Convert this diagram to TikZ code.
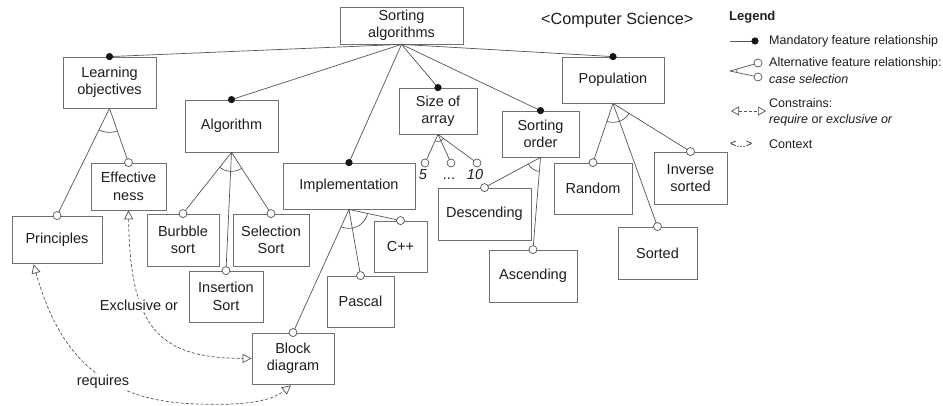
\documentclass[tikz,border=0pt]{standalone}
\usepackage{fontspec}
\setmainfont{Liberation Sans}
\usetikzlibrary{arrows.meta,calc}
\definecolor{lc}{HTML}{555555}
\definecolor{bc}{HTML}{707070}
\definecolor{tc}{HTML}{1E1E1E}
\definecolor{dc}{HTML}{151515}
\newcommand{\boxfont}{\fontsize{14.5}{17.4}\selectfont}
\newcommand{\legfont}{\fontsize{12.5}{15}\selectfont}
\begin{document}
\begin{tikzpicture}[x=1pt,y=-1pt,
  fbox/.style={draw=bc, line width=0.8pt, fill=white, align=center, inner sep=0pt,
    font=\boxfont, text=tc},
  edge/.style={draw=lc, line width=0.7pt},
  opc/.style={draw=lc, line width=0.7pt, fill=white},
  constr/.style={draw=lc, line width=0.7pt, dash pattern=on 3pt off 2pt,
    {Triangle[open,length=9pt,width=9pt]}-{Triangle[open,length=9pt,width=9pt]}},
  lab/.style={font=\boxfont, text=tc, inner sep=1pt},
  legtxt/.style={font=\legfont, text=tc, anchor=west, inner sep=0pt}
]
\useasboundingbox (0,0) rectangle (943,406);

% nodes
\node[fbox, minimum width=123, minimum height=37] (root) at (401.5,25.5) {Sorting\\algorithms};
\node[fbox, minimum width=93, minimum height=51] (lo) at (109.5,82.5) {Learning\\objectives};
\node[fbox, minimum width=93, minimum height=52] (alg) at (231.5,126) {Algorithm};
\node[fbox, minimum width=75, minimum height=47] (eff) at (128.5,186.5) {Effective\\ness};
\node[fbox, minimum width=90, minimum height=47] (pri) at (57,239.5) {Principles};
\node[fbox, minimum width=72, minimum height=52] (bub) at (183,240) {Burbble\\sort};
\node[fbox, minimum width=76, minimum height=52] (sel) at (271,240) {Selection\\Sort};
\node[fbox, minimum width=74, minimum height=51] (ins) at (226,296.5) {Insertion\\Sort};
\node[fbox, minimum width=82, minimum height=51] (blk) at (293,358.5) {Block\\diagram};
\node[fbox, minimum width=132, minimum height=46] (imp) at (349,186) {Implementation};
\node[fbox, minimum width=53, minimum height=51] (cpp) at (400.5,246.5) {C++};
\node[fbox, minimum width=67, minimum height=51] (pas) at (360.5,301.5) {Pascal};
\node[fbox, minimum width=78, minimum height=46] (size) at (438,111) {Size of\\array};
\node[fbox, minimum width=77, minimum height=46] (ord) at (540.5,134) {Sorting\\order};
\node[fbox, minimum width=93, minimum height=52] (desc) at (484.5,214) {Descending};
\node[fbox, minimum width=88, minimum height=52] (asc) at (533,276) {Ascending};
\node[fbox, minimum width=102, minimum height=46] (pop) at (613,80) {Population};
\node[fbox, minimum width=78, minimum height=51] (rand) at (593,188.5) {Random};
\node[fbox, minimum width=73, minimum height=52] (inv) at (690.5,178) {Inverse\\sorted};
\node[fbox, minimum width=79, minimum height=52] (srt) at (657.5,253) {Sorted};

% size of array values
\coordinate (s5) at (425,163);
\coordinate (sd) at (451,163);
\coordinate (s10) at (477,163);
\node[lab, font=\boxfont\itshape, anchor=base] (l5) at (423,180) {5};
\node[lab, anchor=base] (ld) at (449,180) {...};
\node[lab, font=\boxfont\itshape, anchor=base] (l10) at (475,180) {10};

% mandatory relations
\foreach \n in {lo,alg,imp,size,ord,pop} {
  \draw[edge] (root.south) -- (\n.north);
}
\foreach \n in {lo,alg,imp,size,ord,pop} {
  \fill[dc] (\n.north) circle (3.6);
}

% alternative relations
\foreach \p/\c in {lo/pri,lo/eff,alg/bub,alg/ins,alg/sel,imp/blk,imp/pas,imp/cpp,
                   ord/desc,ord/asc,pop/rand,pop/srt,pop/inv} {
  \draw[edge] (\p.south) -- (\c.north);
}
\foreach \c in {s5,sd,s10} {\draw[edge] (size.south) -- (\c);}

% arcs
\foreach \p/\a/\b/\r in {lo/pri/eff/24, alg/bub/sel/19, imp/blk/cpp/19, ord/desc/asc/14, pop/rand/inv/19} {
  \begin{scope}
    \clip (\p.south) -- (\a.north) -- (\b.north) -- cycle;
    \draw[edge] (\p.south) circle (\r);
  \end{scope}
}
\begin{scope}
  \clip (size.south) -- (s5) -- (s10) -- cycle;
  \draw[edge] (size.south) circle (7);
\end{scope}

% open circles
\foreach \c in {pri,eff,bub,ins,sel,blk,pas,cpp,desc,asc,rand,srt,inv} {
  \draw[opc] (\c.north) circle (4);
}
\foreach \c in {s5,sd,s10} {\draw[opc] (\c) circle (4);}

% constraints
\draw[constr] (eff.south) .. controls (130,330) and (160,358) .. (blk.west);
\node[lab, fill=white] (xor) at (139,305) {Exclusive or};
\coordinate (prA) at ($(pri.south west)+(22,1)$);
\coordinate (blB) at ($(blk.south)+(-2,1)$);
\draw[constr] (prA) .. controls (55,340) and (90,395) .. (180,403)
   .. controls (240,407) and (270,402) .. (blB);
\node[lab, fill=white] (req) at (103,382) {requires};

% context
\node[font=\fontsize{16.2}{19}\selectfont, text=tc, anchor=west, inner sep=0pt] (ctx) at (541,20) {<Computer Science>};

% legend
\node[font=\fontsize{13}{15}\selectfont\bfseries, text=tc, anchor=west, inner sep=0pt] (legT) at (729,17) {Legend};
\coordinate (m1) at (730,41);
\coordinate (m2) at (755,41);
\draw[edge] (m1) -- (m2);
\fill[dc] (m2) circle (3.6);
\node[legtxt] (legM) at (769,41) {Mandatory feature relationship};

\coordinate (a0) at (730,71);
\coordinate (a1) at (758,63);
\coordinate (a2) at (758,77);
\draw[edge] (a0) -- (a1);
\draw[edge] (a0) -- (a2);
\begin{scope}
  \clip (a0) -- (a1) -- (a2) -- cycle;
  \draw[edge] (a0) circle (7);
\end{scope}
\draw[opc] (a1) circle (4);
\draw[opc] (a2) circle (4);
\node[legtxt] (legA1) at (769,63) {Alternative feature relationship:};
\node[legtxt, font=\legfont\itshape] (legA2) at (769,79) {case selection};

\coordinate (c1) at (731,111);
\coordinate (c2) at (766,111);
\draw[constr, {Triangle[open,length=8pt,width=9pt]}-{Triangle[open,length=8pt,width=9pt]}] (c1) -- (c2);
\node[legtxt] (legC1) at (769,103) {Constrains:};
\node[legtxt] (legC2) at (769,120) {\textit{require} or \textit{exclusive or}};

\node[legtxt, font=\fontsize{11}{13}\selectfont] (legX1) at (730,144) {<...>};
\node[legtxt] (legX2) at (769,144) {Context};
\end{tikzpicture}
\end{document}
